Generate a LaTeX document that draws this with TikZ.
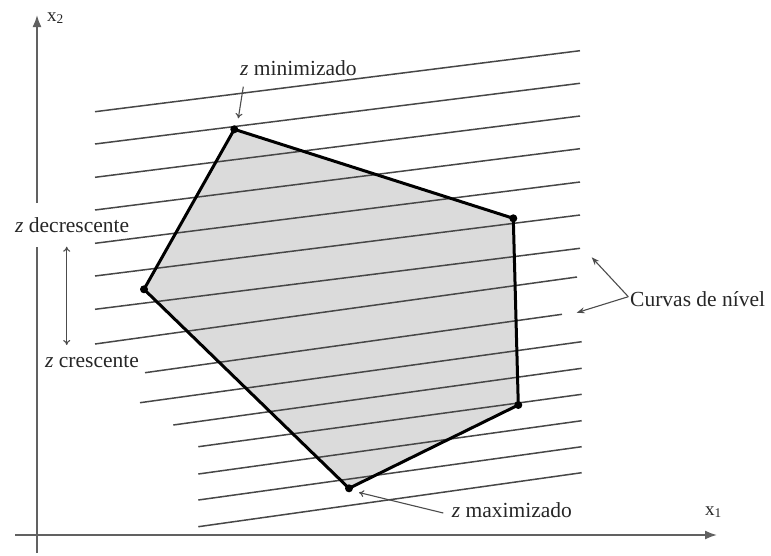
\documentclass[tikz,border=0pt]{standalone}
\usepackage{fontspec}
\setmainfont{Liberation Serif}
\usetikzlibrary{arrows.meta}
\begin{document}
\begin{tikzpicture}[x=1pt,y=-1pt,
  lvl/.style={draw=black!72, line width=1.5pt},
  axis/.style={draw=black!62, line width=1.7pt},
  lbl/.style={font=\fontsize{21.5}{24}\selectfont, text=black!85, inner sep=0pt},
  axlbl/.style={font=\fontsize{19}{22}\selectfont, text=black!85, inner sep=0pt},
  vdot/.style={circle, fill=black, inner sep=0pt, minimum size=8pt},
  openarrow/.style={draw=black!70, line width=1.1pt, -{To[length=5pt,width=7pt]}},
  dblarrow/.style={draw=black!70, line width=1.1pt, {To[length=5pt,width=7pt]}-{To[length=5pt,width=7pt]}},
  fillarrow/.style={draw=black!70, line width=1.1pt, -{Stealth[length=8pt,width=6pt]}}]
\useasboundingbox (0,0) rectangle (771,555);

% axes
\coordinate (yb) at (37,553);
\coordinate (yg1) at (37,247);
\coordinate (yg2) at (37,203);
\coordinate (yt) at (37,15);
\coordinate (xl) at (15,535);
\coordinate (xr) at (717,535);
\draw[axis] (yb) -- (yg1);
\draw[axis, -{Latex[length=12pt,width=9pt]}] (yg2) -- (yt);
\draw[axis, -{Latex[length=12pt,width=9pt]}] (xl) -- (xr);
\node[axlbl, anchor=base west] (x2) at (47,21) {x\textsubscript{2}};
\node[axlbl, anchor=base west] (x1) at (705,515) {x\textsubscript{1}};

% feasible region
\coordinate (A) at (234.3,129.3);
\coordinate (B) at (513.3,218.3);
\coordinate (C) at (518.3,405);
\coordinate (D) at (349,488.3);
\coordinate (E) at (144,289.3);
\fill[black!14] (A) -- (B) -- (C) -- (D) -- (E) -- cycle;

% level curves
\foreach \xa/\ya/\xb/\yb [count=\i] in {
  95/111.7/580/50.7, 95/144/580/83.3, 95/177.3/580/116, 95/210/580/148.7,
  95/243.3/580/182, 95/276/580/215, 95/309.3/580/248.3, 95/344/577/277,
  145/372.7/562/314.3, 140/402.7/581.7/341.7, 173.3/425/581.7/368.3,
  198.3/446.7/581.7/394.3, 198.3/474/581.7/420.7, 198.3/500/581.7/446.7,
  198.3/526.7/581.7/472.7}{
  \coordinate (l\i a) at (\xa,\ya);
  \coordinate (l\i b) at (\xb,\yb);
  \draw[lvl] (l\i a) -- (l\i b);
}

\draw[draw=black, line width=3pt, line join=round] (A) -- (B) -- (C) -- (D) -- (E) -- cycle;
\foreach \v in {A,B,C,D,E} \node[vdot] (d\v) at (\v) {};

% labels
\node[lbl, anchor=base west] (zmin) at (240,75) {\textit{z} minimizado};
\coordinate (zmint) at (243.3,86.7);
\coordinate (zminh) at (238.3,118.3);
\draw[openarrow] (zmint) -- (zminh);

\node[lbl, anchor=base west] (zdec) at (15,232) {\textit{z} decrescente};
\node[lbl, anchor=base west] (zcre) at (45,367.5) {\textit{z} crescente};
\coordinate (dat) at (66.7,246.7);
\coordinate (dab) at (66.7,345);
\draw[dblarrow] (dat) -- (dab);

\node[lbl, anchor=base west] (cn) at (630,306) {Curvas de nível};
\coordinate (cj) at (628.3,296.7);
\coordinate (ch1) at (591.7,257.3);
\coordinate (ch2) at (576.7,312.7);
\draw[fillarrow] (cj) -- (ch1);
\draw[fillarrow] (cj) -- (ch2);

\node[lbl, anchor=base west] (zmax) at (451.7,517.5) {\textit{z} maximizado};
\coordinate (zmaxt) at (443.3,513);
\coordinate (zmaxh) at (359,492.5);
\draw[openarrow] (zmaxt) -- (zmaxh);
\end{tikzpicture}
\end{document}
